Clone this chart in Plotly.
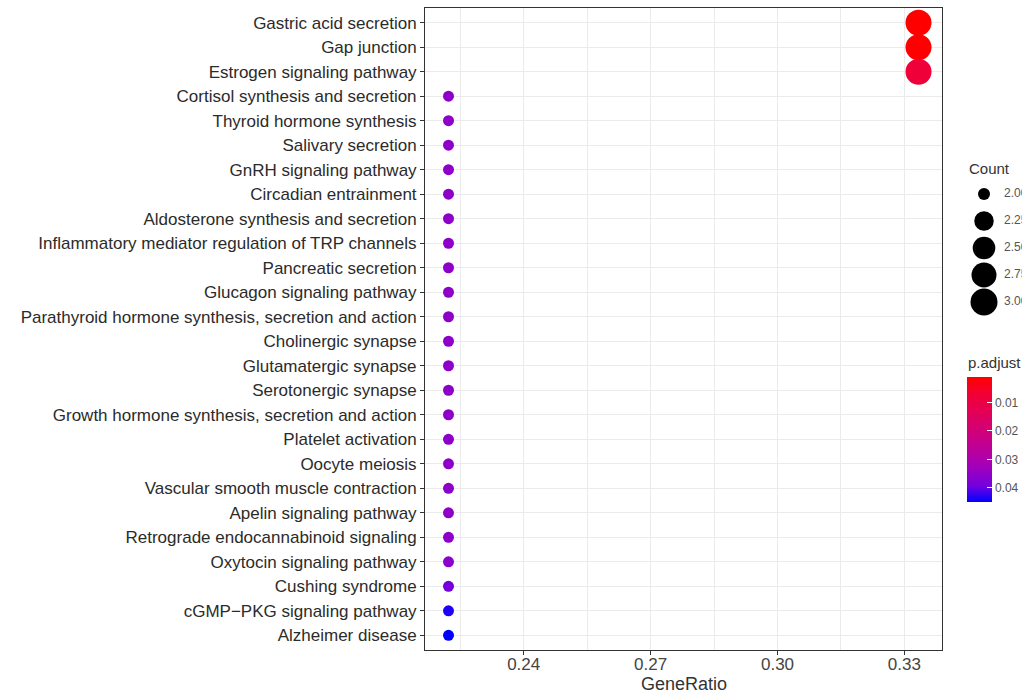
import numpy as np
import plotly.graph_objects as go

# ---------------- data ----------------
categories = [
    "Gastric acid secretion",
    "Gap junction",
    "Estrogen signaling pathway",
    "Cortisol synthesis and secretion",
    "Thyroid hormone synthesis",
    "Salivary secretion",
    "GnRH signaling pathway",
    "Circadian entrainment",
    "Aldosterone synthesis and secretion",
    "Inflammatory mediator regulation of TRP channels",
    "Pancreatic secretion",
    "Glucagon signaling pathway",
    "Parathyroid hormone synthesis, secretion and action",
    "Cholinergic synapse",
    "Glutamatergic synapse",
    "Serotonergic synapse",
    "Growth hormone synthesis, secretion and action",
    "Platelet activation",
    "Oocyte meiosis",
    "Vascular smooth muscle contraction",
    "Apelin signaling pathway",
    "Retrograde endocannabinoid signaling",
    "Oxytocin signaling pathway",
    "Cushing syndrome",
    "cGMP\u2212PKG signaling pathway",
    "Alzheimer disease",
]
gene_ratio = ["3/9", "3/9", "3/9"] + ["2/9"] * 23
counts = [3, 3, 3] + [2] * 23
p_adjust = [0.0010, 0.0010, 0.0080,
            0.0355, 0.0355, 0.0355, 0.0355, 0.0355, 0.0355, 0.0355,
            0.0355, 0.0355, 0.0355, 0.0355, 0.0355, 0.0355, 0.0355,
            0.0355, 0.0355, 0.0355, 0.0355, 0.0355, 0.0360,
            0.0390, 0.0435, 0.0450]

x_ticks = [0.24, 0.27, 0.30, 0.33]
x_minor = [0.225, 0.255, 0.285, 0.315]
count_levels = [2.0, 2.25, 2.5, 2.75, 3.0]
count_labels = ["2.00", "2.25", "2.50", "2.75", "3.00"]
p_ticks = [0.01, 0.02, 0.03, 0.04]

# ---------------- styling / derived ----------------
W, H = 1022, 695
ratio = [int(a) / int(b) for a, b in (g.split("/") for g in gene_ratio)]
cmin_c, cmax_c = min(counts), max(counts)
SMIN, SMAX = 11, 26


def size_of(c):
    return SMIN + (SMAX - SMIN) * np.sqrt((c - cmin_c) / (cmax_c - cmin_c))


sizes = [size_of(c) for c in counts]
neg_p = [-v for v in p_adjust]

colorscale = [
    [0.0, "#0000FF"],
    [0.125, "#7100E0"],
    [0.25, "#9900C2"],
    [0.375, "#B300A4"],
    [0.5, "#C80088"],
    [0.75, "#E7004F"],
    [0.875, "#F30031"],
    [1.0, "#FF0000"],
]

lo, hi = min(ratio), max(ratio)
pad = 0.05 * (hi - lo)
n = len(categories)

# panel in pixels
PL, PR, PT, PB = 425, 942, 8, 650

fig = go.Figure()

fig.add_trace(go.Scatter(
    x=ratio, y=categories, mode="markers",
    marker=dict(
        size=sizes, color=neg_p, colorscale=colorscale,
        cmin=-max(p_adjust), cmax=-min(p_adjust),
        line=dict(width=0), opacity=1,
        showscale=True,
        colorbar=dict(
            x=967 / W, xanchor="left", xpad=0,
            y=1 - 439.5 / H, yanchor="middle", ypad=0,
            len=125, lenmode="pixels", thickness=25,
            outlinewidth=0,
            tickvals=[-v for v in p_ticks],
            ticktext=["%.2f" % v for v in p_ticks],
            ticks="inside", ticklen=5, tickcolor="white", tickwidth=1,
            tickfont=dict(family="Liberation Sans", size=12, color="#555555"),
        ),
    ),
    showlegend=False, hoverinfo="x+y",
))

# size legend (drawn on an auxiliary axis)
fig.add_trace(go.Scatter(
    x=[29] * len(count_levels), y=count_levels, mode="markers",
    marker=dict(size=[size_of(c) + 1 for c in count_levels], color="#000000",
                opacity=1, line=dict(width=0)),
    xaxis="x2", yaxis="y2", showlegend=False, hoverinfo="skip",
))
fig.add_trace(go.Scatter(
    x=[49] * len(count_levels), y=count_levels, mode="text",
    text=count_labels, textposition="middle right",
    textfont=dict(family="Liberation Sans", size=12, color="#555555"),
    xaxis="x2", yaxis="y2", showlegend=False, hoverinfo="skip",
))

font_txt = "Liberation Sans"
fig.update_layout(
    width=W, height=H,
    margin=dict(l=0, r=0, t=0, b=0, autoexpand=False),
    paper_bgcolor="white", plot_bgcolor="white",
    font=dict(family=font_txt),
    xaxis=dict(
        domain=[PL / W, PR / W], range=[lo - pad, hi + pad],
        tickvals=x_ticks, ticktext=["%.2f" % v for v in x_ticks],
        ticks="outside", ticklen=4, tickcolor="#333333", tickwidth=1,
        ticklabelstandoff=-5,
        tickfont=dict(family=font_txt, size=17, color="#444444"),
        showgrid=True, gridcolor="#ebebeb", gridwidth=1,
        minor=dict(tickvals=x_minor, showgrid=True, gridcolor="#ebebeb",
                   gridwidth=0.6, ticks=""),
        showline=True, mirror=True, linecolor="#333333", linewidth=1,
        zeroline=False, automargin=False,
    ),
    yaxis=dict(
        domain=[1 - PB / H, 1 - PT / H],
        type="category", categoryorder="array", categoryarray=categories,
        range=[n - 1 + 0.6, -0.6],
        ticks="outside", ticklen=4, tickcolor="#333333", tickwidth=1,
        tickfont=dict(family=font_txt, size=17, color="#2b2b2b"),
        showgrid=True, gridcolor="#ebebeb", gridwidth=1,
        showline=True, mirror=True, linecolor="#333333", linewidth=1,
        zeroline=False, automargin=False,
    ),
    xaxis2=dict(domain=[955 / W, 1.0], range=[0, 67], visible=False,
                fixedrange=True),
    yaxis2=dict(domain=[1 - 320 / H, 1 - 155 / H],
                range=[2 + 126 / 108, 2 - 39 / 108], visible=False,
                fixedrange=True),
    annotations=[
        dict(text="GeneRatio", x=(PL + PR) / 2 / W, y=1 - 684 / H,
             xref="paper", yref="paper", xanchor="center", yanchor="middle",
             showarrow=False,
             font=dict(family=font_txt, size=18, color="#333333")),
        dict(text="Count", x=967 / W, y=1 - 168 / H, xref="paper", yref="paper",
             xanchor="left", yanchor="middle", showarrow=False,
             font=dict(family=font_txt, size=15, color="#333333")),
        dict(text="p.adjust", x=966 / W, y=1 - 362 / H, xref="paper", yref="paper",
             xanchor="left", yanchor="middle", showarrow=False,
             font=dict(family=font_txt, size=15, color="#333333")),
    ],
)

fig.write_html(
    "out.html",
    config={"displayModeBar": False},
    post_script="document.body.style.margin='0';document.body.style.overflow='hidden';",
)
